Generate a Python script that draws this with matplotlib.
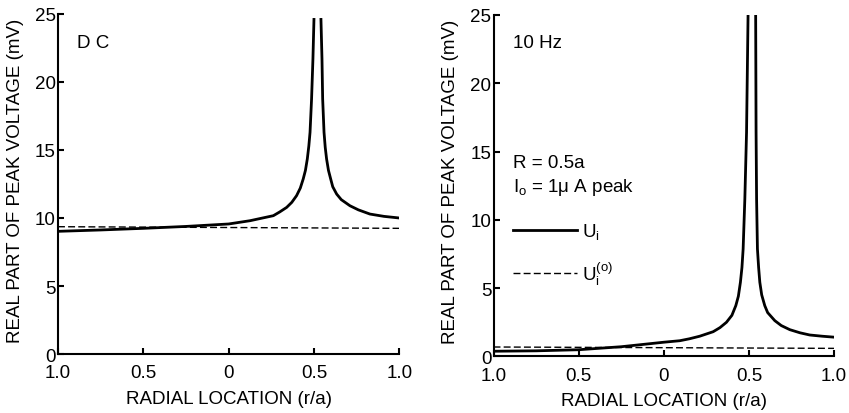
import numpy as np
import matplotlib
matplotlib.use('Agg')
import matplotlib.pyplot as plt

plt.rcParams['font.family'] = ['Liberation Sans', 'DejaVu Sans']
plt.rcParams['mathtext.fontset'] = 'custom'
plt.rcParams['mathtext.rm'] = 'Liberation Sans'
plt.rcParams['mathtext.it'] = 'Liberation Sans'

nan = np.nan

# DC panel: solid U_i and dashed U_i^(o)
dc_x = [-1.0, -0.75, -0.5, -0.25, 0.0, 0.125, 0.262, 0.30, 0.340, 0.37, 0.398,
        0.42, 0.437, 0.45, 0.461, 0.47, 0.477, 0.486, 0.494, 0.500, nan,
        0.541, 0.547, 0.551, 0.559, 0.566, 0.574, 0.585, 0.598, 0.61, 0.633,
        0.66, 0.711, 0.76, 0.828, 0.91, 1.0]
dc_y = [9.02, 9.12, 9.24, 9.38, 9.56, 9.80, 10.17, 10.45, 10.78, 11.15, 11.64,
        12.2, 12.87, 13.5, 14.34, 15.3, 16.3, 18.75, 21.7, 24.6, nan,
        24.6, 21.7, 18.75, 16.3, 15.2, 14.34, 13.5, 12.87, 12.3, 11.76,
        11.35, 10.9, 10.6, 10.29, 10.12, 10.0]
dc_ref_x = [-1.0, 1.0]
dc_ref_y = [9.36, 9.24]

# 10 Hz panel
hz_x = [-1.0, -0.75, -0.5, -0.25, 0.0, 0.094, 0.15, 0.211, 0.290, 0.33,
        0.368, 0.40, 0.423, 0.438, 0.450, 0.459, 0.466, 0.476, 0.486, 0.497, nan,
        0.539, 0.542, 0.545, 0.550, 0.557, 0.564, 0.575, 0.593, 0.61, 0.652,
        0.69, 0.740, 0.80, 0.857, 0.93, 1.0]
hz_y = [0.37, 0.40, 0.48, 0.70, 1.03, 1.14, 1.28, 1.47, 1.80, 2.1,
        2.49, 3.0, 3.71, 4.4, 5.42, 6.5, 7.86, 11.52, 16.4, 27.0, nan,
        27.0, 16.4, 11.52, 7.86, 6.5, 5.42, 4.5, 3.71, 3.2, 2.61,
        2.25, 1.95, 1.72, 1.56, 1.47, 1.40]
hz_ref_x = [-1.0, 1.0]
hz_ref_y = [0.68, 0.58]

xticks = [-1.0, -0.5, 0.0, 0.5, 1.0]
xtick_labels = ['1.0', '0.5', '0', '0.5', '1.0']
yticks = [0, 5, 10, 15, 20, 25]

fs = 13.5

fig = plt.figure(figsize=(8.49, 4.14), dpi=100)
ax1 = fig.add_axes([0.0683, 0.1425, 0.402, 0.8213])
ax2 = fig.add_axes([0.5813, 0.137, 0.4011, 0.8244])

for ax in (ax1, ax2):
    for s in ('top', 'right'):
        ax.spines[s].set_visible(False)
    for s in ('left', 'bottom'):
        ax.spines[s].set_linewidth(1.5)
    ax.set_xlim(-1.0, 1.0)
    ax.set_ylim(0, 25)
    ax.set_xticks(xticks)
    ax.set_xticklabels(xtick_labels)
    ax.set_yticks(yticks)
    ax.tick_params(direction='in', length=4, width=1.5, labelsize=fs)
    ax.tick_params(axis='x', pad=7.5)
    ax.tick_params(axis='y', pad=1.5)
    ax.set_xlabel('RADIAL LOCATION (r/a)', fontsize=fs, labelpad=6)
    ax.set_ylabel('REAL PART OF PEAK VOLTAGE (mV)', fontsize=fs)
    ax.yaxis.set_label_coords(-0.1, 0.513)

ax1.plot(dc_x, dc_y, color='black', lw=2.0, solid_joinstyle='round')
ax1.plot(dc_ref_x, dc_ref_y, color='black', lw=1.0, dashes=(5, 2.3))
ax1.text(-0.89, 22.9, 'D C', fontsize=fs, va='center', ha='left')

u1, = ax2.plot(hz_x, hz_y, color='black', lw=2.0, solid_joinstyle='round',
               label=r'$\mathregular{U_i}$')
u0, = ax2.plot(hz_ref_x, hz_ref_y, color='black', lw=1.0, dashes=(5, 2.3),
               label=r'$\mathregular{U_i^{(o)}}$')
ax2.text(-0.887, 23.0, '10 Hz', fontsize=fs, va='center', ha='left')
ax2.text(-0.887, 14.2, 'R = 0.5a', fontsize=fs, va='center', ha='left')
ax2.text(-0.887, 12.4, r'$\mathregular{I_o}$ = 1$\mathregular{\mu}$ A peak', fontsize=fs,
         va='center', ha='left')
ax2.legend(handles=[u1, u0], loc='upper left', bbox_to_anchor=(0.057, 0.395),
           frameon=False, fontsize=fs, handlelength=3.4, handletextpad=0.3,
           borderpad=0, borderaxespad=0, labelspacing=0.95)

fig.savefig('out.png', dpi=100)
